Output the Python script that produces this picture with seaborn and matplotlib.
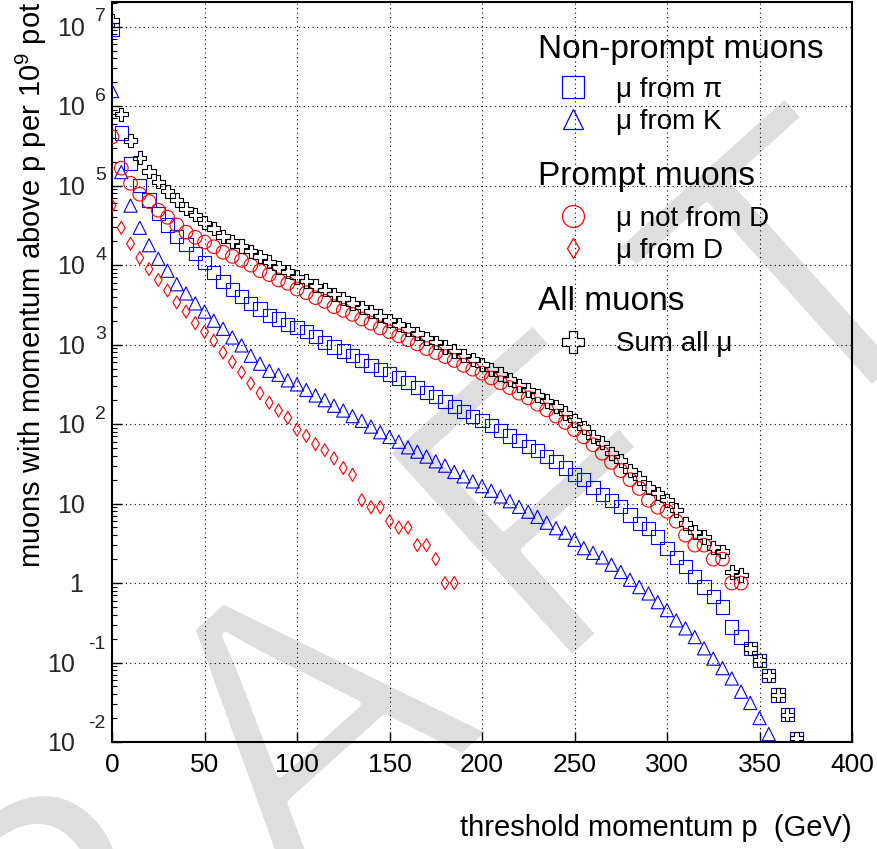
import numpy as np
import matplotlib
matplotlib.use('Agg')
import matplotlib.pyplot as plt
import matplotlib.patheffects as pe
import seaborn as sns
from matplotlib.lines import Line2D
from matplotlib.ticker import LogLocator, NullFormatter, MultipleLocator

# threshold momentum grid (GeV), one point every 5 GeV
p = [0, 5, 10, 15, 20, 25, 30, 35, 40, 45, 50, 55, 60, 65, 70, 75, 80, 85, 90, 95,
     100, 105, 110, 115, 120, 125, 130, 135, 140, 145, 150, 155, 160, 165, 170, 175,
     180, 185, 190, 195, 200, 205, 210, 215, 220, 225, 230, 235, 240, 245, 250, 255,
     260, 265, 270, 275, 280, 285, 290, 295, 300, 305, 310, 315, 320, 325, 330, 335,
     340, 345, 350, 355, 360, 365, 370]

# muons above p per 1e9 pot
mu_pi = [9.3e6, 4.6e5, 1.9e5, 1.0e5, 6.6e4, 4.5e4, 3.2e4, 2.3e4, 1.8e4, 1.4e4,
         1.07e4, 8.1e3, 6.2e3, 4.9e3, 4.0e3, 3.3e3, 2.8e3, 2.35e3, 2.1e3, 1.78e3,
         1.66e3, 1.45e3, 1.26e3, 1.07e3, 933, 832, 724, 631, 550, 490,
         427, 380, 331, 288, 251, 224, 191, 166, 145, 126,
         112, 95, 83, 71, 62, 52, 46, 39, 34, 28,
         23, 20, 16, 13, 11, 9.1, 7.2, 5.6, 4.9, 3.8,
         2.75, 2.1, 1.6, 1.2, 0.89, 0.68, 0.50, 0.28, 0.21, 0.15,
         0.107, 0.069, 0.039, 0.022, 0.0112]

mu_K = [1.55e6, 1.48e5, 5.6e4, 2.95e4, 1.78e4, 1.2e4, 8.5e3, 5.75e3, 4.4e3, 3.3e3,
        2.6e3, 2.0e3, 1.58e3, 1.23e3, 977, 724, 575, 468, 417, 355,
        316, 269, 229, 200, 170, 148, 126, 110, 93, 79,
        69, 60, 51, 45, 39, 34, 30, 25, 22, 19,
        16.6, 14.5, 12.3, 10.7, 9.1, 7.9, 6.8, 5.75, 4.9, 4.3,
        3.5, 2.75, 2.4, 2.1, 1.7, 1.38, 1.1, 0.89, 0.74, 0.575,
        0.457, 0.339, 0.269, 0.209, 0.151, 0.112, 0.085, 0.063, 0.043, 0.031,
        0.020, 0.0126]

mu_notD = [4.1e5, 1.66e5, 1.07e5, 7.8e4, 6.3e4, 4.9e4, 4.0e4, 3.2e4, 2.6e4, 2.24e4,
           1.95e4, 1.7e4, 1.45e4, 1.29e4, 1.15e4, 1.0e4, 8.5e3, 7.6e3, 6.5e3, 5.9e3,
           5.0e3, 4.5e3, 3.9e3, 3.5e3, 3.0e3, 2.7e3, 2.4e3, 2.1e3, 1.86e3, 1.62e3,
           1.45e3, 1.29e3, 1.15e3, 1.02e3, 891, 794, 708, 631, 550, 490,
           437, 380, 331, 288, 245, 214, 178, 151, 126, 105,
           85, 69, 55, 43, 33, 26, 20, 15.5, 11, 9,
           8, 6, 4, 3, 3, 2, 2, 1, 1]

mu_D = [5.6e4, 2.95e4, 1.86e4, 1.23e4, 8.9e3, 6.5e3, 4.8e3, 3.4e3, 2.6e3, 1.86e3,
        1.45e3, 1.12e3, 794, 603, 447, 324, 245, 186, 148, 120,
        85, 71, 56, 47, 37, 28, 23, 11, 9, 9,
        6, 5, 5, 3, 3, 2, 1, 1]

mu_sum = [1.2e7, 7.9e5, 3.7e5, 2.24e5, 1.5e5, 1.12e5, 8.5e4, 6.6e4, 5.1e4, 4.3e4,
          3.4e4, 2.9e4, 2.3e4, 2.0e4, 1.74e4, 1.5e4, 1.29e4, 1.1e4, 9.3e3, 8.3e3,
          7.1e3, 6.3e3, 5.5e3, 4.9e3, 4.3e3, 3.8e3, 3.3e3, 2.95e3, 2.6e3, 2.3e3,
          2.0e3, 1.78e3, 1.55e3, 1.38e3, 1.2e3, 1.07e3, 933, 832, 724, 646,
          562, 490, 427, 363, 309, 269, 229, 195, 166, 138,
          112, 91, 69, 58, 43, 35, 26, 21, 16, 13.5,
          11, 8.3, 5.6, 4.4, 3.8, 2.8, 2.5, 1.38, 1.26, 0.15,
          0.107, 0.069, 0.039, 0.022, 0.0112]

headers = ['Non-prompt muons', 'Prompt muons', 'All muons']
labels_np = ['\u03bc from \u03c0', '\u03bc from K']
labels_p = ['\u03bc not from D', '\u03bc from D']
labels_all = ['Sum all \u03bc']

sns.set_theme(style='white')
plt.rcParams['font.family'] = ['Liberation Sans', 'DejaVu Sans']
plt.rcParams['mathtext.fontset'] = 'custom'
plt.rcParams['mathtext.rm'] = 'Liberation Sans'

W, H = 878, 849
fig = plt.figure(figsize=(W / 100, H / 100), dpi=100)
fig.patch.set_facecolor('white')
ax = fig.add_axes([0.1276, 0.1260, 0.8428, 0.8716])
ax.set_facecolor('none')

# DRAFT watermark, letters laid out along a diagonal behind the plot
ang = np.deg2rad(42)
ux, uy = np.cos(ang), -np.sin(ang)          # baseline direction in pixel coords
base_A = np.array([392.0, 821.0])            # baseline centre of the "A"
step = 332.0
thin = [pe.Normal(), pe.Stroke(linewidth=5.5, foreground='white')]
for i, ch in enumerate('DRAFT'):
    bx = base_A[0] + (i - 2) * step * ux
    by = base_A[1] + (i - 2) * step * uy
    fig.text(bx / W, 1 - by / H, ch, rotation=42, rotation_mode='anchor',
             ha='center', va='baseline', fontsize=290, color='#dedede',
             zorder=-5, path_effects=thin)

# (x, y, marker, colour, size in points)
series = [
    (p[:len(mu_pi)], mu_pi, 's', 'blue', 9.5),
    (p[:len(mu_K)], mu_K, '^', 'blue', 9.5),
    (p[:len(mu_notD)], mu_notD, 'o', 'red', 9.8),
    (p[:len(mu_D)], mu_D, 'd', 'red', 6.6),
    (p[:len(mu_sum)], mu_sum, 'P', 'black', 9.5),
]
for xs, ys, mk, col, ms in series:
    sns.scatterplot(x=xs, y=ys, marker=mk, s=ms ** 2, facecolor='none',
                    edgecolor=col, linewidth=0.8, ax=ax, zorder=3)

ax.set_yscale('log')
ax.set_xlim(0, 400)
ax.set_ylim(1e-2, 2.04e7)

ax.xaxis.set_major_locator(MultipleLocator(50))
ax.yaxis.set_major_locator(LogLocator(base=10, numticks=20))
ax.yaxis.set_minor_locator(LogLocator(base=10, subs=np.arange(2, 10) * 1.0, numticks=100))
ax.yaxis.set_major_formatter(NullFormatter())
ax.yaxis.set_minor_formatter(NullFormatter())
ax.tick_params(axis='both', which='both', direction='in', color='black',
               left=True, bottom=True, right=False, top=False)
ax.tick_params(axis='both', which='major', length=7, width=1)
ax.tick_params(axis='y', which='minor', length=3.5, width=0.8)
ax.tick_params(axis='x', labelsize=19, pad=8, labelcolor='black')

ax.grid(True, which='major', color='black', linestyle=(0, (1, 3)), linewidth=0.8)
ax.set_axisbelow(True)
for sp in ax.spines.values():
    sp.set_color('black')
    sp.set_linewidth(1.5)

# ROOT style log labels: "10" with raised exponent
ytr = ax.get_yaxis_transform()
for k in range(-2, 8):
    v = 10.0 ** k
    if k == 0:
        ax.annotate('1', xy=(0, v), xycoords=ytr, xytext=(-21, -6.5),
                    textcoords='offset points', ha='right', va='baseline', fontsize=18)
    elif k >= 1:
        ax.annotate('10', xy=(0, v), xycoords=ytr, xytext=(-19.5, -6.5),
                    textcoords='offset points', ha='right', va='baseline', fontsize=18)
        if k > 1:
            ax.annotate(str(k), xy=(0, v), xycoords=ytr, xytext=(-12.2, 4.0),
                        textcoords='offset points', ha='left', va='baseline', fontsize=14)
    else:
        ax.annotate('10', xy=(0, v), xycoords=ytr, xytext=(-26.6, -6.5),
                    textcoords='offset points', ha='right', va='baseline', fontsize=18)
        ax.annotate(str(k), xy=(0, v), xycoords=ytr, xytext=(-17.3, 10.0),
                    textcoords='offset points', ha='left', va='baseline', fontsize=14)

ax.set_xlabel('threshold momentum p  (GeV)', fontsize=21, loc='right', color='black')
ax.xaxis.set_label_coords(1.0, -0.097)
ax.set_ylabel(r'muons with momentum above p per 10$^{\mathregular{9}}$ pot',
              fontsize=21, loc='top', color='black')
ax.yaxis.set_label_coords(-0.085, 1.0)

# legend: three headed blocks
def handle(mk, col, ms):
    return Line2D([], [], marker=mk, linestyle='none', markerfacecolor='none',
                  markeredgecolor=col, markersize=ms, markeredgewidth=0.9)

leg_x = 0.5757
for txt, yb in zip(headers, [0.9250, 0.7527, 0.5838]):
    ax.text(leg_x, yb, txt, transform=ax.transAxes, fontsize=24,
            ha='left', va='baseline', color='black', zorder=5)

leg_kw = dict(loc='upper left', frameon=False, fontsize=20,
              handlelength=2.5, handletextpad=0.32,
              borderpad=0, borderaxespad=0, labelspacing=0.2)

leg1 = ax.legend([handle('s', 'blue', 15.8), handle('^', 'blue', 14.4)], labels_np,
                 bbox_to_anchor=(leg_x, 0.8984), **leg_kw)
ax.add_artist(leg1)
leg2 = ax.legend([handle('o', 'red', 15.8), handle('d', 'red', 10.2)], labels_p,
                 bbox_to_anchor=(leg_x, 0.7241), **leg_kw)
ax.add_artist(leg2)
leg3 = ax.legend([handle('P', 'black', 15.8)], labels_all,
                 bbox_to_anchor=(leg_x, 0.5551), **leg_kw)
for lg in (leg1, leg2, leg3):
    for t in lg.get_texts():
        t.set_color('black')

fig.savefig('out.png', dpi=100)
